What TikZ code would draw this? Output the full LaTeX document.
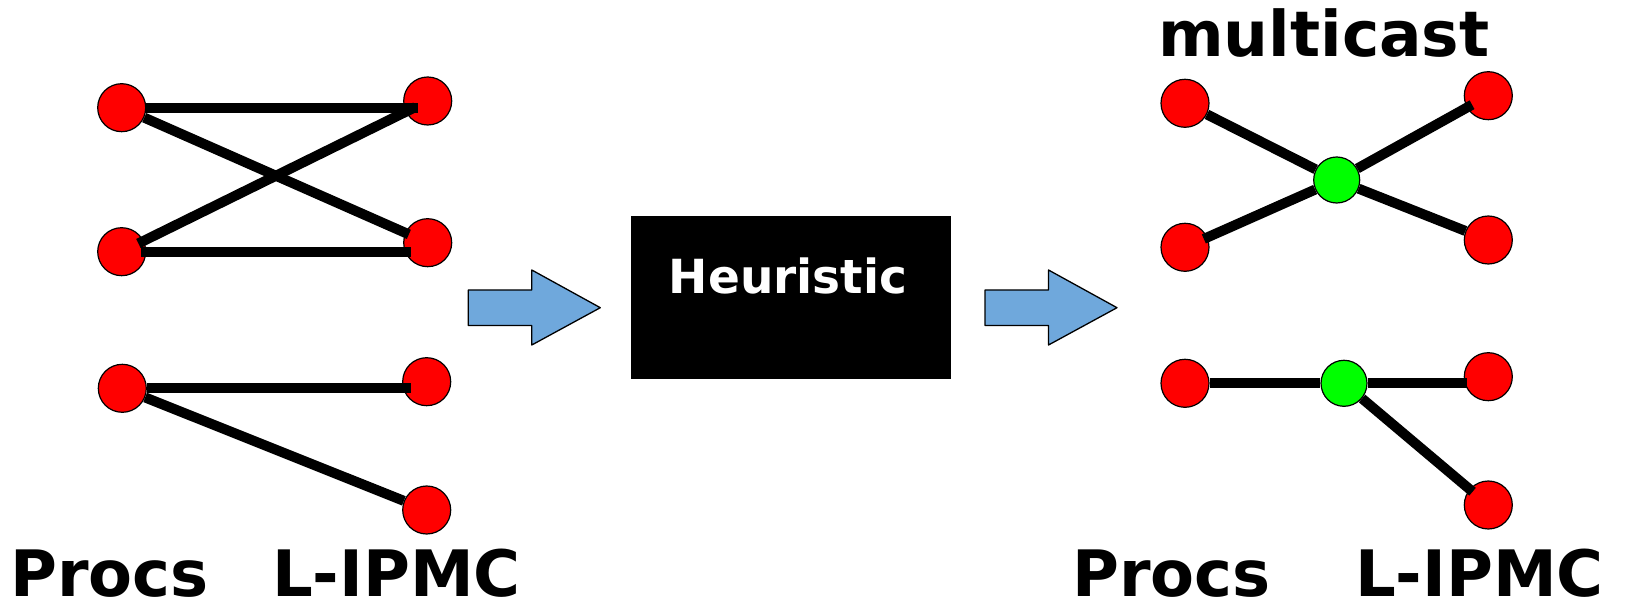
\documentclass[tikz,border=0pt]{standalone}
\usepackage{fontspec}
\setmainfont{DejaVu Sans}
\usepackage{xcolor}
\usetikzlibrary{positioning}
\definecolor{arrowblue}{RGB}{111,168,220}

\begin{document}
\begin{tikzpicture}[x=1pt,y=-1pt,
    proc/.style={circle, draw=black, line width=1.2pt, fill=red, minimum size=48pt, inner sep=0pt},
    hub/.style={proc, fill=green, minimum size=46pt},
    link/.style={line width=10pt},
    bigtext/.style={font=\bfseries\fontsize{64}{68}\selectfont, anchor=base west, inner sep=0pt}]
    \useasboundingbox (0,0) rectangle (1625,601);

    % before: procs on the left, L-IPMCs on the right
    \node[proc] (pa) at (121.7,107.7) {};
    \node[proc] (ia) at (427.7,101) {};
    \node[proc] (pb) at (121.7,251.7) {};
    \node[proc] (ib) at (427.7,242.7) {};
    \node[proc] (pc) at (122.3,388.3) {};
    \node[proc] (ic) at (426.7,381.7) {};
    \node[proc] (id) at (426.7,510) {};

    \draw[link, shorten >=10pt] (pa) -- (pa -| ia.center);
    \draw[link, shorten >=-4pt] (pa) -- (ib);
    \draw[link, shorten <=-6pt, shorten >=-11pt] (pb) -- (ia);
    \draw[link, shorten <=-5pt, shorten >=17pt] (pb) -- (pb -| ib.center);
    \draw[link, shorten >=16pt] (pc) -- (pc -| ic.center);
    \draw[link] (pc) -- (id);

    % arrows and the heuristic box
    \foreach \x in {468.3, 985} {
        \draw[fill=arrowblue, line width=1.3pt, line join=round]
            (\x,290) -- (\x+63.5,290) -- (\x+63.5,270) -- (\x+132,307.7)
            -- (\x+63.5,345) -- (\x+63.5,325.5) -- (\x,325.5) -- cycle;
    }
    \node[fill=black, minimum width=320pt, minimum height=163pt] (heur) at (791,297.5) {};
    \node[anchor=base, inner sep=0pt, text=white, font=\bfseries\fontsize{47}{50}\selectfont] (heurtext) at ([shift={(-3,-3.5)}]heur.center) {Heuristic};

    % after: multicast through hubs
    \node[proc] (qa) at (1185,103.3) {};
    \node[proc] (ja) at (1488.3,95.7) {};
    \node[hub] (ga) at (1336.7,180) {};
    \node[proc] (qb) at (1185,247.3) {};
    \node[proc] (jb) at (1488.3,240) {};
    \node[proc] (qc) at (1185,383.3) {};
    \node[hub] (gb) at (1344,383.3) {};
    \node[proc] (jc) at (1488.3,376.7) {};
    \node[proc] (jd) at (1488.3,505) {};

    \draw[link] (qa) -- (ga);
    \draw[link, shorten >=-6pt] (ga) -- (ja);
    \draw[link, shorten <=-4pt] (qb) -- (ga);
    \draw[link] (ga) -- (jb);
    \draw[link] (qc) -- (gb);
    \draw[link, shorten >=21pt] (gb) -- (gb -| jc.center);
    \draw[link, shorten >=-4pt] (gb) -- (jd);

    % labels
    \node[font=\bfseries\fontsize{63}{66}\selectfont, anchor=base west, inner sep=0pt] (mcast) at (1158,57) {multicast};
    \node[bigtext] (procsl) at (10,596.5) {Procs};
    \node[bigtext] (ipmcl) at (272,596.5) {L-IPMC};
    \node[bigtext] (procsr) at (1072,596.5) {Procs};
    \node[bigtext] (ipmcr) at (1355,596.5) {L-IPMC};
\end{tikzpicture}
\end{document}
